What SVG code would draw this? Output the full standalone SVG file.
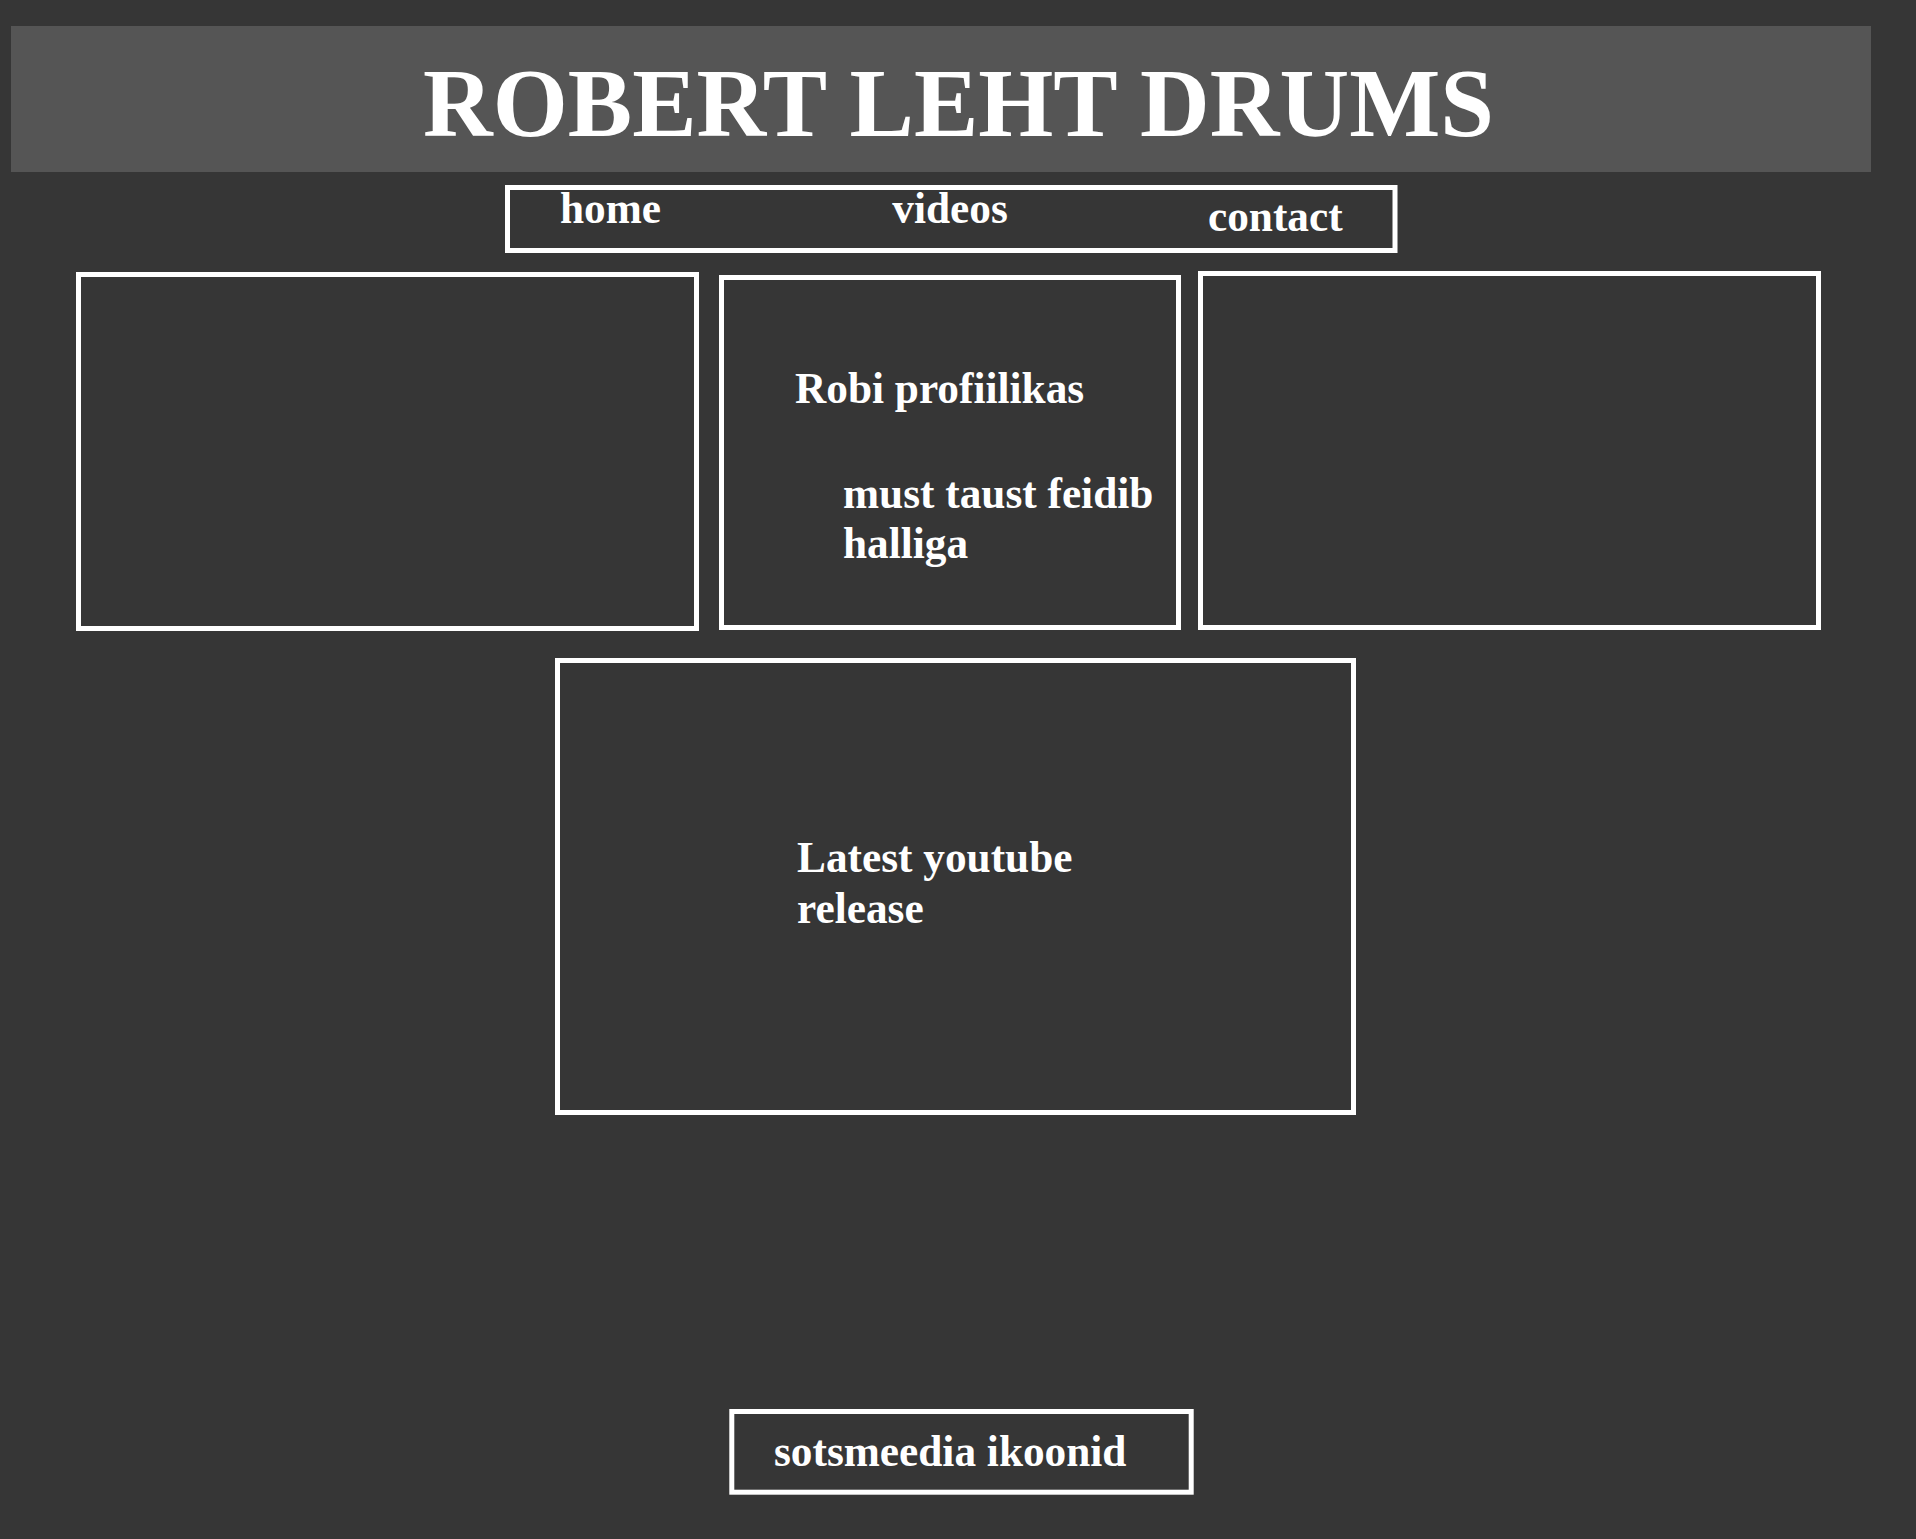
<svg xmlns="http://www.w3.org/2000/svg" width="1916" height="1539" viewBox="0 0 1916 1539">
  <style>
    .box { fill: #363636; stroke: #ffffff; stroke-width: 5; }
    .t { font-family: "Liberation Serif", "Times New Roman", serif; font-weight: bold; fill: #ffffff; font-size: 43.3px; }
    .title { font-size: 96.5px; text-anchor: middle; }
  </style>
  <rect x="0" y="0" width="1916" height="1539" fill="#363636"/>
  <g id="header">
    <rect x="11" y="26" width="1860" height="146" fill="#555555"/>
    <text class="t title" x="958.5" y="136">ROBERT LEHT DRUMS</text>
  </g>
  <g id="nav">
    <rect class="box" x="507.5" y="187.5" width="887.5" height="63"/>
    <text class="t" x="560" y="223.3">home</text>
    <text class="t" x="892.3" y="223.3">videos</text>
    <text class="t" x="1208" y="231">contact</text>
  </g>
  <g id="box-left">
    <rect class="box" x="78.5" y="274.5" width="618" height="354"/>
  </g>
  <g id="box-profile">
    <rect class="box" x="721.5" y="277.5" width="457" height="350"/>
    <text class="t" x="795" y="403">Robi profiilikas</text>
    <text class="t" x="843" y="508">must taust feidib</text>
    <text class="t" x="843" y="558">halliga</text>
  </g>
  <g id="box-right">
    <rect class="box" x="1200.5" y="273.5" width="618" height="354"/>
  </g>
  <g id="box-youtube">
    <rect class="box" x="557.5" y="660.5" width="796" height="452"/>
    <text class="t" x="797" y="871.7">Latest youtube</text>
    <text class="t" x="797" y="923">release</text>
  </g>
  <g id="footer">
    <rect class="box" x="731.8" y="1411.5" width="459.4" height="80.7"/>
    <text class="t" x="774" y="1466">sotsmeedia ikoonid</text>
  </g>
  <g id="connectors"></g>
</svg>
